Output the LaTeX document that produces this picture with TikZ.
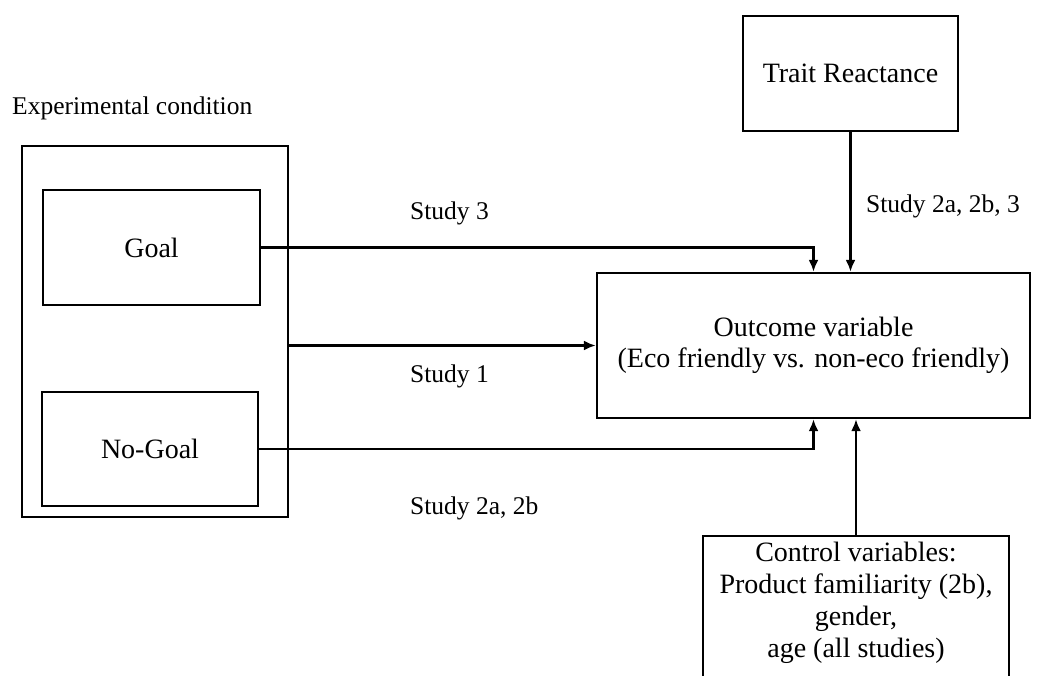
\documentclass[tikz,border=0pt]{standalone}
\usepackage{fontspec}
\setmainfont{Liberation Serif}
\usetikzlibrary{arrows.meta}
\begin{document}
\begin{tikzpicture}[x=1pt,y=-1pt,
  box/.style={draw=black, line width=2.4pt, rectangle, inner sep=0pt, align=center,
    font=\fontsize{28}{31}\selectfont},
  lbl/.style={anchor=west, inner sep=0pt, font=\fontsize{25.5}{30}\selectfont},
  arr/.style={draw=black, line width=2.4pt, -{Latex[length=12pt,width=10pt]}}]
\useasboundingbox (0,0) rectangle (1039,675);
\clip (0,0) rectangle (1039,675);
\fill[white] (0,0) rectangle (1039,675);
% boxes
\node[box, minimum width=266, minimum height=371] (exp) at (155,331.5) {};
\node[box, minimum width=217, minimum height=115] (goal) at (151.5,247.5) {Goal};
\node[box, minimum width=216, minimum height=114] (nogoal) at (150,449) {No-Goal};
\node[box, minimum width=433, minimum height=145] (outcome) at (813.5,345.5)
  {Outcome variable\\(Eco friendly vs. non-eco friendly)};
\node[box, minimum width=215, minimum height=115] (trait) at (850.5,73.5) {Trait Reactance};
\node[box, minimum width=306, minimum height=175, anchor=north] (control) at (856,535) {};
\node[align=center, inner sep=0pt, font=\fontsize{28}{32}\selectfont] (ctext) at (856,603)
  {Control variables:\\Product familiarity (2b),\\gender,\\age (all studies)};
% labels
\node[lbl] (lexp) at (12,108) {Experimental condition};
\node[lbl] (l3) at (410,213) {Study 3};
\node[lbl] (l1) at (410,376) {Study 1};
\node[lbl] (l2) at (410,508) {Study 2a, 2b};
\node[lbl] (l23) at (866,206) {Study 2a, 2b, 3};
% connectors
\draw[arr] (goal.east) -| (outcome.north);
\draw[arr] (exp.east |- outcome.west) -- (outcome.west);
\draw[arr] (nogoal.east) -| (outcome.south);
\draw[arr] (trait.south) -- (trait.south |- outcome.north);
\draw[arr] (control.north) -- (control.north |- outcome.south);
\end{tikzpicture}
\end{document}
